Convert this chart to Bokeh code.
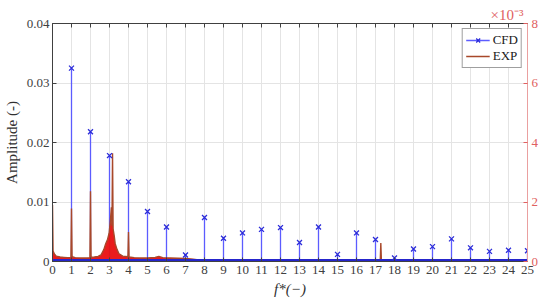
from bokeh.plotting import figure
from bokeh.models import Range1d, LinearAxis, FixedTicker, Legend, LegendItem
from bokeh.embed import file_html
from bokeh.resources import INLINE

# ---------------- data ----------------
cfd_harmonic = list(range(1, 26))
cfd_amp = [0.0325, 0.0218, 0.0178, 0.0134, 0.0084, 0.0058, 0.0011, 0.0074,
           0.0039, 0.0048, 0.0054, 0.0057, 0.0032, 0.0058, 0.0012, 0.0048,
           0.0037, 0.0006, 0.0021, 0.0025, 0.0038, 0.0023, 0.0017, 0.0019,
           0.0018]

exp_freq = [0.00, 0.03, 0.10, 0.20, 0.40, 0.60, 0.80, 0.97, 1.00, 1.03,
            1.20, 1.50, 1.80, 1.97, 2.00, 2.03, 2.20, 2.40, 2.55, 2.70,
            2.80, 2.90, 2.98, 3.05, 3.10, 3.13, 3.16, 3.19, 3.25, 3.30,
            3.40, 3.50, 3.70, 3.97, 4.00, 4.03, 4.30, 4.60, 5.00, 5.40,
            5.60, 5.80, 6.20, 6.60, 7.00, 7.40, 7.80, 8.50, 12.0, 17.25,
            17.28, 17.31, 21.0, 25.0]
exp_amp = [0.00190, 0.00035, 0.00025, 0.00018, 0.00015, 0.00014, 0.00013, 0.00014, 0.00178, 0.00016,
           0.00013, 0.00012, 0.00012, 0.00013, 0.00236, 0.00014, 0.00015, 0.00017, 0.00022, 0.00040,
           0.00060, 0.00075, 0.00095, 0.00140, 0.00182, 0.00120, 0.00364, 0.00110, 0.00085, 0.00060,
           0.00040, 0.00026, 0.00018, 0.00016, 0.00099, 0.00015, 0.00013, 0.00012, 0.00012, 0.00014,
           0.00017, 0.00013, 0.00012, 0.00011, 0.00010, 0.00008, 0.00004, 0.00003, 0.00003, 0.00003,
           0.00062, 0.00003, 0.00002, 0.00002]

x_ticks = list(range(0, 26))
left_ticks = [0, 0.01, 0.02, 0.03, 0.04]
left_labels = ["0", "0.01", "0.02", "0.03", "0.04"]
right_ticks = [0, 0.002, 0.004, 0.006, 0.008]
right_labels = ["0", "2", "4", "6", "8"]
right_scale_text = "×10⁻³"

FONT = "Liberation Serif"
RED = "#e06060"
GRAY = "#404040"

p = figure(width=550, height=299, output_backend="svg", toolbar_location=None,
           x_range=Range1d(x_ticks[0], x_ticks[-1]),
           y_range=Range1d(left_ticks[0], left_ticks[-1]),
           min_border_left=52, min_border_right=23, min_border_top=23,
           min_border_bottom=38)
p.extra_y_ranges = {"exp": Range1d(right_ticks[0], right_ticks[-1])}
p.background_fill_color = "white"
p.outline_line_color = "#909090"

# title used as the right-axis multiplier
p.title.text = right_scale_text
p.title.align = "right"
p.title.text_color = RED
p.title.text_font = FONT
p.title.text_font_size = "15px"
p.title.text_font_style = "normal"
p.title.offset = 4
p.title.standoff = 2

# grid
p.xgrid.ticker = FixedTicker(ticks=x_ticks)
p.ygrid.ticker = FixedTicker(ticks=left_ticks)
p.xgrid.grid_line_color = "#e4e4e4"
p.ygrid.grid_line_color = "#e4e4e4"

def style_axis(ax, color):
    ax.major_tick_in = 4
    ax.major_tick_out = 0
    ax.minor_tick_line_color = None
    ax.major_tick_line_color = color
    ax.axis_line_color = color
    ax.major_label_text_font = FONT
    ax.major_label_text_font_size = "13px"
    ax.major_label_text_color = color
    ax.axis_label_text_font = FONT
    ax.axis_label_text_font_size = "15px"
    ax.axis_label_text_font_style = "normal"
    ax.axis_label_text_color = "#303030"

xa = p.xaxis[0]
xa.ticker = FixedTicker(ticks=x_ticks)
style_axis(xa, GRAY)
xa.major_label_standoff = 4
xa.axis_label = "f*(−)"
xa.axis_label_text_font_style = "italic"
xa.axis_label_standoff = 4

ya = p.yaxis[0]
ya.ticker = FixedTicker(ticks=left_ticks)
ya.major_label_overrides = {t: s for t, s in zip(left_ticks, left_labels)}
style_axis(ya, GRAY)
ya.major_label_standoff = 3
ya.axis_label = "Amplitude (-)"
ya.axis_label_standoff = 4

ra = LinearAxis(y_range_name="exp", ticker=FixedTicker(ticks=right_ticks))
ra.major_label_overrides = {t: s for t, s in zip(right_ticks, right_labels)}
style_axis(ra, RED)
ra.axis_line_color = "#eaa0a0"
ra.major_label_standoff = 4
p.add_layout(ra, "right")

ta = LinearAxis(ticker=FixedTicker(ticks=x_ticks))
style_axis(ta, GRAY)
ta.major_label_overrides = {t: "" for t in x_ticks}
ta.major_label_standoff = 0
p.add_layout(ta, "above")

# CFD stems
stems = p.segment(x0=cfd_harmonic, y0=[0] * len(cfd_harmonic), x1=cfd_harmonic,
                  y1=cfd_amp, line_color="#5c5cff", line_width=1.3)

# EXP spectrum (right axis)
p.varea(x=exp_freq, y1=[0] * len(exp_freq), y2=exp_amp, y_range_name="exp",
        fill_color="#e81010", fill_alpha=0.95)
exp_line = p.line(x=exp_freq, y=exp_amp, y_range_name="exp",
                  line_color="#a8482a", line_width=1.4)

# CFD low-amplitude band along zero
p.line(x=[x_ticks[0], x_ticks[-1]], y=[0, 0], line_color="#2525cc", line_width=5)

marks = p.scatter(x=cfd_harmonic, y=cfd_amp, marker="x", size=7,
                  line_color="#2b2bd9", line_width=1.3)

legend = Legend(items=[LegendItem(label="CFD", renderers=[stems, marks]),
                       LegendItem(label="EXP", renderers=[exp_line])],
                location="top_right", margin=5, padding=3, spacing=0,
                glyph_width=24, glyph_height=14, label_height=14,
                label_standoff=3,
                label_text_font=FONT, label_text_font_size="13px",
                label_text_color="#202020",
                border_line_color="#404040", border_line_width=1,
                background_fill_alpha=1.0)
p.add_layout(legend, "center")

open("out.html", "w").write(file_html(p, INLINE))
